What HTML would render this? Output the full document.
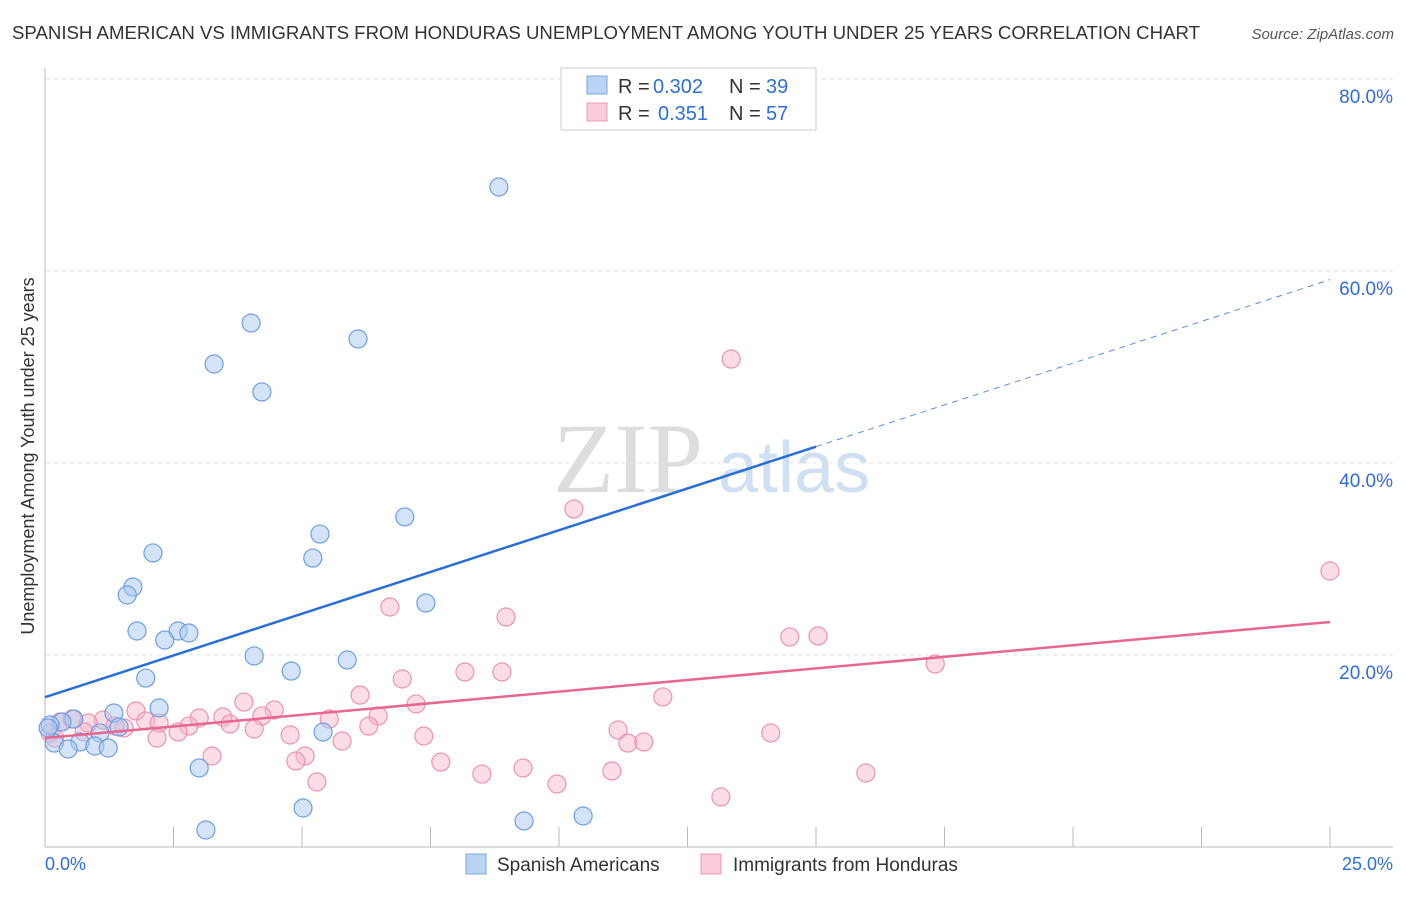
<!DOCTYPE html>
<html><head><meta charset="utf-8"><style>
body{margin:0;background:#fff;font-family:"Liberation Sans",sans-serif;}
svg text{font-family:"Liberation Sans",sans-serif;}
</style></head><body>
<svg id="c" width="1406" height="892" xmlns="http://www.w3.org/2000/svg">
<text x="12" y="39" font-size="18" fill="#333" textLength="1188" lengthAdjust="spacingAndGlyphs">SPANISH AMERICAN VS IMMIGRANTS FROM HONDURAS UNEMPLOYMENT AMONG YOUTH UNDER 25 YEARS CORRELATION CHART</text>
<text x="1394" y="39" font-size="15" fill="#555" font-style="italic" text-anchor="end">Source: ZipAtlas.com</text>
<text transform="translate(34,456) rotate(-90)" font-size="18" fill="#333" text-anchor="middle">Unemployment Among Youth under 25 years</text>
<text x="553" y="492" font-size="100" fill="#ddd" font-family="Liberation Serif" style="font-family:'Liberation Serif',serif">ZIP</text>
<text x="718" y="492" font-size="72" fill="#cfe0f3">atlas</text>
<g id="grid"></g><g id="pts"></g><g id="lines"></g>
<g>
<rect x="561" y="68" width="255" height="62" fill="#fff" stroke="#ccc"/>
<rect x="587" y="76" width="20" height="18" fill="#b9d3f5" stroke="#7aa7e0"/>
<rect x="587" y="103" width="20" height="18" fill="#fbcbd9" stroke="#ee9ab5"/>
<text x="618" y="93" font-size="20" fill="#333">R =</text>
<text x="653" y="93" font-size="20" fill="#2e6fd0">0.302</text>
<text x="729" y="93" font-size="20" fill="#333">N =</text>
<text x="766" y="93" font-size="20" fill="#2e6fd0">39</text>
<text x="618" y="120" font-size="20" fill="#333">R =</text>
<text x="658" y="120" font-size="20" fill="#2e6fd0">0.351</text>
<text x="729" y="120" font-size="20" fill="#333">N =</text>
<text x="766" y="120" font-size="20" fill="#2e6fd0">57</text>
</g>
<g>
<rect x="466" y="854" width="20" height="20" fill="#b9d3f5" stroke="#7aa7e0"/>
<text x="497" y="871" font-size="19" fill="#333">Spanish Americans</text>
<rect x="701" y="854" width="20" height="20" fill="#fbcbd9" stroke="#ee9ab5"/>
<text x="733" y="871" font-size="19" fill="#333">Immigrants from Honduras</text>
</g>
<text x="45" y="870" font-size="18" fill="#2e6fd0">0.0%</text>
<text x="1393" y="870" font-size="18" fill="#2e6fd0" text-anchor="end">25.0%</text>
</svg>
<script>
const yTicks=[20,40,60,80];
const blueX=[8.83,4.01,6.09,3.29,4.22,7.00,5.35,5.21,2.10,1.71,1.60,7.41,1.79,2.59,2.80,2.33,4.07,5.88,4.79,1.96,2.22,1.34,0.56,0.33,0.10,1.07,1.44,5.41,0.68,0.18,0.45,0.97,1.23,3.00,5.02,9.32,10.47,3.13,0.06];
const blueY=[68.75,54.58,52.92,50.31,47.40,34.38,32.60,30.10,30.63,27.08,26.25,25.42,22.50,22.50,22.29,21.56,19.90,19.48,18.33,17.60,14.48,13.96,13.33,13.02,12.71,11.88,12.50,11.98,10.94,10.83,10.21,10.52,10.31,8.23,4.06,2.71,3.23,1.77,12.40];
const pinkX=[13.35,10.29,25.0,6.71,8.97,14.49,15.04,17.32,8.17,8.89,6.95,6.13,12.02,3.87,7.22,1.77,4.46,1.13,3.46,3.00,4.22,5.53,6.48,1.96,2.22,2.80,3.60,4.07,6.30,0.29,0.84,0.53,1.54,4.77,2.59,7.37,11.15,14.12,0.10,5.78,11.34,11.65,2.18,3.25,5.06,4.88,7.70,9.30,8.50,11.03,15.97,5.29,9.96,13.15,0.19,1.36,0.76];
const pinkY=[50.83,35.21,28.75,25.0,23.96,21.88,21.98,19.06,18.23,18.23,17.5,15.83,15.63,15.10,14.90,14.17,14.27,13.23,13.54,13.44,13.65,13.33,13.65,13.13,12.92,12.60,12.81,12.29,12.60,13.02,12.92,13.33,12.40,11.67,11.98,11.56,12.19,11.88,11.88,11.04,10.83,10.94,11.35,9.48,9.48,8.96,8.85,8.23,7.60,7.92,7.71,6.77,6.56,5.21,11.35,12.60,11.98];
const blueTrend=[15.6,59.1]; // value at x=0, x=25
const pinkTrend=[11.35,23.44];
const NS='http://www.w3.org/2000/svg';
const sx=v=>45+v*51.4, sy=v=>847-v*9.6;
function mk(t,a,p){const e=document.createElementNS(NS,t);for(const k in a)e.setAttribute(k,a[k]);document.getElementById(p).appendChild(e);return e;}
for(const t of yTicks){
 const g=mk('line',{x1:45,x2:1393,y1:sy(t),y2:sy(t),stroke:'#e6e6e6','stroke-dasharray':'4,4'},'grid');
 
 
 const tx=mk('text',{x:1393,y:sy(t)+24,'font-size':19,fill:'#2e6fd0','text-anchor':'end'},'grid');
 tx.textContent=t.toFixed(1)+'%';
 
 
}
mk('line',{x1:45,x2:45,y1:68,y2:847,stroke:'#bbb'},'grid');
mk('line',{x1:45,x2:1393,y1:847,y2:847,stroke:'#bbb'},'grid');
for(let i=0;i<=10;i++){const l=mk('line',{x1:sx(i*2.5),x2:sx(i*2.5),y1:827,y2:847,stroke:'#bbb'},'grid');
 
 }
pinkX.forEach((x,i)=>{const c=mk('circle',{cx:sx(x),cy:sy(pinkY[i]),r:9,fill:'rgba(248,180,200,0.45)',stroke:'#ec93b0','stroke-width':1.2},'pts');
 
 });
blueX.forEach((x,i)=>{const c=mk('circle',{cx:sx(x),cy:sy(blueY[i]),r:9,fill:'rgba(170,200,240,0.5)',stroke:'#6e9fe0','stroke-width':1.2},'pts');
 
 });
const bAt=x=>blueTrend[0]+(blueTrend[1]-blueTrend[0])*x/25;
const pAt=x=>pinkTrend[0]+(pinkTrend[1]-pinkTrend[0])*x/25;
let l1=mk('line',{x1:sx(0),y1:sy(bAt(0)),x2:sx(15),y2:sy(bAt(15)),stroke:'#2a6fd6','stroke-width':2.5},'lines');


let l2=mk('line',{x1:sx(15),y1:sy(bAt(15)),x2:sx(25),y2:sy(bAt(25)),stroke:'#5b8fdc','stroke-width':1,'stroke-dasharray':'6,5'},'lines');


let l3=mk('line',{x1:sx(0),y1:sy(pAt(0)),x2:sx(25),y2:sy(pAt(25)),stroke:'#e8678f','stroke-width':2.5},'lines');


</script>
</body></html>
